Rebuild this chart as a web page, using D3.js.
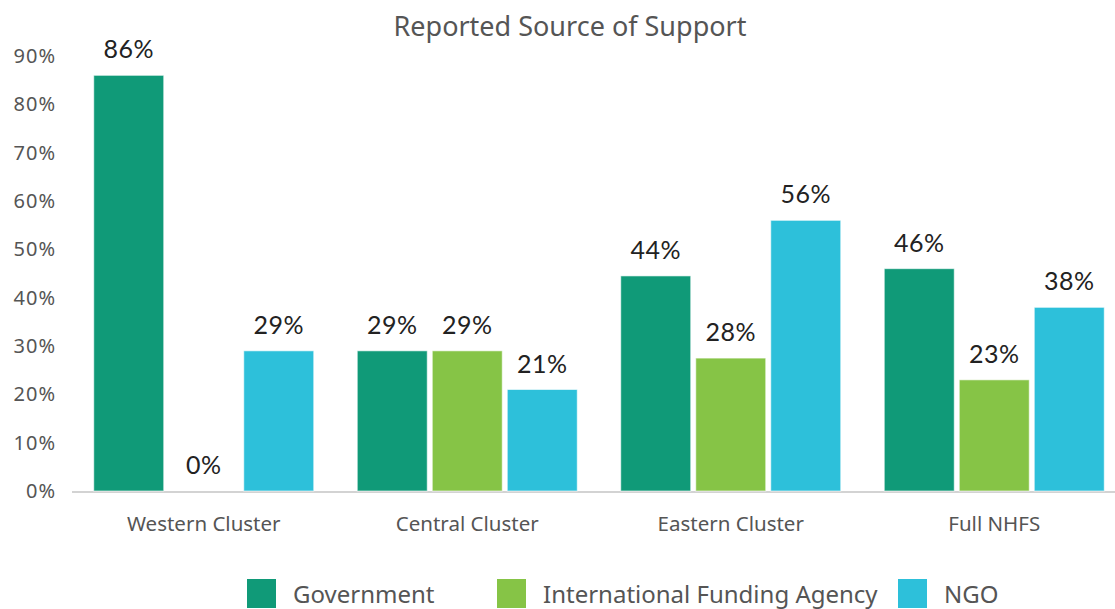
<!DOCTYPE html>
<html>
<head>
<meta charset="utf-8">
<script src="https://cdn.jsdelivr.net/npm/d3@7"></script>
<style>
    body { margin: 0; background: #fff; }
    #container { width: 1115px; height: 609px; }
</style>
</head>
<body>
<div id="container"></div>
<script>
const clusters = ['Western Cluster', 'Central Cluster', 'Eastern Cluster', 'Full NHFS'];
const sources = ['Government', 'International Funding Agency', 'NGO'];
const government = [86, 29, 44.5, 46];
const fundingAgency = [0, 29, 27.5, 23];
const ngo = [29, 21, 56, 38];
const valueLabels = [
    ['86%', '0%', '29%'],
    ['29%', '29%', '21%'],
    ['44%', '28%', '56%'],
    ['46%', '23%', '38%']
];
const yTicks = [0, 10, 20, 30, 40, 50, 60, 70, 80, 90];

const colorMap = {
    'Government': '#109a78',
    'International Funding Agency': '#86c446',
    'NGO': '#2dc0da'
};

const svg = d3.select('#container')
    .append('svg')
    .attr('width', 1115)
    .attr('height', 609);

const x0 = d3.scaleBand()
    .domain(clusters)
    .range([72, 1126]);

const x1 = d3.scaleBand()
    .domain(sources)
    .range([0, x0.bandwidth()])
    .paddingInner(0.067)
    .paddingOuter(0.29);

const y = d3.scaleLinear()
    .domain([0, 90])
    .range([491, 56]);

// title
svg.append('text')
    .text('Reported Source of Support')
    .attr('x', 570)
    .attr('y', 36)
    .attr('text-anchor', 'middle')
    .style('font-family', '\'Noto Sans\', sans-serif')
    .style('font-size', '27px')
    .style('fill', '#555');

// y axis labels
svg.append('g')
    .selectAll('text')
    .data(yTicks)
    .join('text')
    .text(d => d + '%')
    .attr('x', 56)
    .attr('y', d => y(d) + 7)
    .attr('text-anchor', 'end')
    .style('font-family', '\'Noto Sans\', sans-serif')
    .style('font-size', '20px')
    .style('letter-spacing', '1px')
    .style('fill', '#555');

// baseline
svg.append('line')
    .attr('x1', 72)
    .attr('x2', 1115)
    .attr('y1', y(0) + 1)
    .attr('y2', y(0) + 1)
    .attr('stroke', '#c4c4c4')
    .attr('stroke-width', 1.5);

const rows = clusters.map((c, i) => ({
    cluster: c,
    values: [government[i], fundingAgency[i], ngo[i]],
    labels: valueLabels[i]
}));

const groups = svg.append('g')
    .selectAll('g')
    .data(rows)
    .join('g')
    .attr('transform', d => `translate(${x0(d.cluster)},0)`);

groups.selectAll('rect')
    .data(d => sources.map((s, j) => ({ source: s, value: d.values[j] })))
    .join('rect')
    .attr('x', d => x1(d.source))
    .attr('width', x1.bandwidth())
    .attr('y', d => y(d.value))
    .attr('height', d => y(0) - y(d.value))
    .attr('fill', d => colorMap[d.source])
    .attr('stroke', '#ffffff')
    .attr('stroke-opacity', 0.6)
    .attr('stroke-width', 1);

groups.selectAll('text.value')
    .data(d => sources.map((s, j) => ({ source: s, value: d.values[j], label: d.labels[j] })))
    .join('text')
    .attr('class', 'value')
    .text(d => d.label)
    .attr('x', d => x1(d.source) + x1.bandwidth() / 2)
    .attr('y', d => y(d.value) - 17)
    .attr('text-anchor', 'middle')
    .style('font-family', 'Lato, sans-serif')
    .style('font-size', '25px')
    .style('letter-spacing', '0.5px')
    .style('fill', '#222');

// x labels
svg.append('g')
    .selectAll('text')
    .data(clusters)
    .join('text')
    .text(d => d)
    .attr('x', d => x0(d) + x0.bandwidth() / 2)
    .attr('y', 531)
    .attr('text-anchor', 'middle')
    .style('font-family', '\'Noto Sans\', sans-serif')
    .style('font-size', '20.5px')
    .style('fill', '#555');

// legend
const legendX = [247, 497, 898];
const legend = svg.append('g')
    .selectAll('g')
    .data(sources)
    .join('g')
    .attr('transform', (d, i) => `translate(${legendX[i]},579)`);

legend.append('rect')
    .attr('width', 29)
    .attr('height', 29)
    .attr('fill', d => colorMap[d]);

legend.append('text')
    .text(d => d)
    .attr('x', 46)
    .attr('y', 24)
    .style('font-family', '\'Noto Sans\', sans-serif')
    .style('font-size', '24px')
    .style('fill', '#555');
</script>
</body>
</html>
